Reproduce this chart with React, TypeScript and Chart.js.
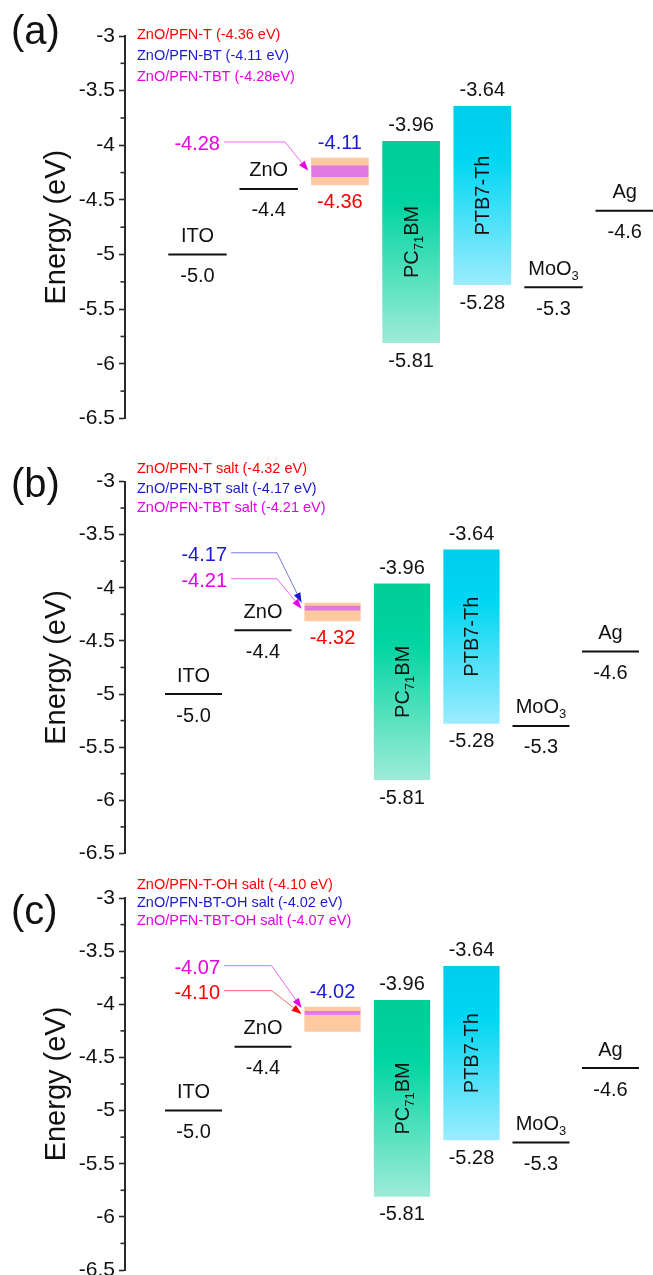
import React, { useEffect, useRef } from "react";
import { Chart, registerables } from "chart.js";

Chart.register(...registerables);

const FONT = "Arial, 'Liberation Sans', Helvetica, sans-serif";
const RED = "#FF0000";
const BLUE = "#1A1AD2";
const MAGENTA = "#E600E6";
const INK = "#111111";
const AXIS_COLOR = "#2a2a2a";
const ORANGE = "rgb(253,201,160)";
const STRIPE = "rgb(226,120,226)";

// ---- data ----
const Y_MIN = -6.5;
const Y_MAX = -3;
const Y_STEP = 0.5;

// x positions: ITO=0, ZnO=1, PFN=2, PC71BM=3, PTB7-Th=4, MoO3=5, Ag=6
const LEVEL_NAMES = ["ITO", "ZnO", "MoO_{3}", "Ag"];
const LEVEL_POS = [0, 1, 5, 6];
const LEVEL_VALUES = [-5.0, -4.4, -5.3, -4.6];
const LEVEL_TEXT = ["-5.0", "-4.4", "-5.3", "-4.6"];

const BAND_NAMES = ["PC_{71}BM", "PTB7-Th"];
const BAND_POS = [3, 4];
const BAND_LUMO = [-3.96, -3.64];
const BAND_HOMO = [-5.81, -5.28];
const BAND_LUMO_TEXT = ["-3.96", "-3.64"];
const BAND_HOMO_TEXT = ["-5.81", "-5.28"];

const PFN_POS = 2;

const PANEL_TAGS = ["(a)", "(b)", "(c)"];
const LEGEND_TEXTS = [
  ["ZnO/PFN-T (-4.36 eV)", "ZnO/PFN-BT (-4.11 eV)", "ZnO/PFN-TBT (-4.28eV)"],
  ["ZnO/PFN-T salt (-4.32 eV)", "ZnO/PFN-BT salt (-4.17 eV)", "ZnO/PFN-TBT salt (-4.21 eV)"],
  ["ZnO/PFN-T-OH salt (-4.10 eV)", "ZnO/PFN-BT-OH salt (-4.02 eV)", "ZnO/PFN-TBT-OH salt (-4.07 eV)"],
];
const LEGEND_COLORS = [RED, BLUE, MAGENTA];

const BOX_TOP = [-4.115, -4.14, -4.023];
const BOX_BOTTOM = [-4.365, -4.316, -4.258];
const STRIPE_TOP = [-4.185, -4.169, -4.063];
const STRIPE_BOTTOM = [-4.29, -4.213, -4.098];

const ABOVE_TEXT = ["-4.11", "", "-4.02"];
const BELOW_TEXT = ["-4.36", "-4.32", ""];

const CALLOUT_TEXT = [["-4.28"], ["-4.17", "-4.21"], ["-4.07", "-4.10"]];
const CALLOUT_COLOR = [[MAGENTA], [BLUE, MAGENTA], [MAGENTA, RED]];
const CALLOUT_Y = [[-3.97], [-3.671, -3.915], [-3.637, -3.872]];
const CALLOUT_TIP_Y = [[-4.234], [-4.141, -4.197], [-4.035, -4.091]];
const CALLOUT_START_X = [0.372, 0.54, 0.439];
const CALLOUT_CORNER_X = [1.229, 1.201, 1.125];
const CALLOUT_TIP_X = 1.555;

// ---- layout (styles only) ----
const AXIS_X = 125;
const PANELS = [
  { top: 0, height: 435, canvasH: 435, padTop: 36, padBottom: 16, xMin: -1.018, xMax: 6.397, tagBase: 8, legendFirst: 3, legendGap: 21 },
  { top: 435, height: 435, canvasH: 435, padTop: 46.5, padBottom: 15.75, xMin: -0.986, xMax: 6.612, tagBase: 15.5, legendFirst: -8.5, legendGap: 19.5 },
  { top: 870, height: 405, canvasH: 440, padTop: 28, padBottom: 40, xMin: -0.986, xMax: 6.612, tagBase: 26, legendFirst: -9, legendGap: 18 },
];

function parseRich(s: string) {
  const parts: { t: string; sub: boolean }[] = [];
  const re = /_\{([^}]*)\}/g;
  let last = 0;
  let m: RegExpExecArray | null;
  while ((m = re.exec(s))) {
    if (m.index > last) parts.push({ t: s.slice(last, m.index), sub: false });
    parts.push({ t: m[1], sub: true });
    last = m.index + m[0].length;
  }
  if (last < s.length) parts.push({ t: s.slice(last), sub: false });
  return parts;
}

function drawRich(ctx: CanvasRenderingContext2D, s: string, cx: number, base: number, size: number, color: string) {
  const parts = parseRich(s);
  const subSize = Math.round(size * 0.65);
  let total = 0;
  const widths = parts.map((p) => {
    ctx.font = `${p.sub ? subSize : size}px ${FONT}`;
    const w = ctx.measureText(p.t).width;
    total += w;
    return w;
  });
  let x = cx - total / 2;
  ctx.fillStyle = color;
  ctx.textAlign = "left";
  ctx.textBaseline = "alphabetic";
  parts.forEach((p, i) => {
    ctx.font = `${p.sub ? subSize : size}px ${FONT}`;
    ctx.fillText(p.t, x, p.sub ? base + size * 0.25 : base);
    x += widths[i];
  });
}

function txt(ctx: CanvasRenderingContext2D, s: string, x: number, y: number, size: number, color: string, align: CanvasTextAlign = "center") {
  ctx.font = `${size}px ${FONT}`;
  ctx.fillStyle = color;
  ctx.textAlign = align;
  ctx.textBaseline = "alphabetic";
  ctx.fillText(s, x, y);
}

function makeAnnotations(idx: number) {
  const p = PANELS[idx];
  return {
    id: "annot" + idx,
    afterDraw(chart: any) {
      const ctx: CanvasRenderingContext2D = chart.ctx;
      const ca = chart.chartArea;
      const xs = chart.scales.x;
      const ys = chart.scales.y;
      const X = (v: number) => xs.getPixelForValue(v);
      const Y = (v: number) => ys.getPixelForValue(v);
      ctx.save();

      // minor ticks
      ctx.strokeStyle = AXIS_COLOR;
      ctx.lineWidth = 1.6;
      for (let v = Y_MIN + Y_STEP / 2; v < Y_MAX; v += Y_STEP) {
        const y = Y(v);
        ctx.beginPath();
        ctx.moveTo(ca.left - 4.5, y);
        ctx.lineTo(ca.left, y);
        ctx.stroke();
      }

      // panel tag
      txt(ctx, PANEL_TAGS[idx], 11, ca.top + p.tagBase, 40, INK, "left");

      // legend lines
      LEGEND_TEXTS[idx].forEach((s, i) => {
        txt(ctx, s, ca.left + 12, ca.top + p.legendFirst + i * p.legendGap, 14.5, LEGEND_COLORS[i], "left");
      });

      // level labels
      LEVEL_POS.forEach((pos, i) => {
        const cx = X(pos);
        const ly = Y(LEVEL_VALUES[i]);
        drawRich(ctx, LEVEL_NAMES[i], cx, ly - 12.5, 20, INK);
        txt(ctx, LEVEL_TEXT[i], cx, ly + 27.5, 20, INK);
      });

      // band labels
      BAND_POS.forEach((pos, i) => {
        const cx = X(pos);
        const top = Y(BAND_LUMO[i]);
        const bot = Y(BAND_HOMO[i]);
        txt(ctx, BAND_LUMO_TEXT[i], cx, top - 10, 20, INK);
        txt(ctx, BAND_HOMO_TEXT[i], cx, bot + 23.5, 20, INK);
        ctx.save();
        ctx.translate(cx + 7, (top + bot) / 2);
        ctx.rotate(-Math.PI / 2);
        drawRich(ctx, BAND_NAMES[i], 0, 0, 20, INK);
        ctx.restore();
      });

      // PFN box labels
      const bx = X(PFN_POS);
      if (ABOVE_TEXT[idx]) txt(ctx, ABOVE_TEXT[idx], bx, Y(BOX_TOP[idx]) - 8.5, 20, BLUE);
      if (BELOW_TEXT[idx]) txt(ctx, BELOW_TEXT[idx], bx, Y(BOX_BOTTOM[idx]) + 22.5, 20, RED);

      // callouts with arrows
      CALLOUT_TEXT[idx].forEach((s, i) => {
        const color = CALLOUT_COLOR[idx][i];
        const ly = Y(CALLOUT_Y[idx][i]);
        const sx = X(CALLOUT_START_X[idx]);
        const cx = X(CALLOUT_CORNER_X[idx]);
        const tx = X(CALLOUT_TIP_X);
        const ty = Y(CALLOUT_TIP_Y[idx][i]);
        txt(ctx, s, sx - 4, ly + 8, 20, color, "right");
        const ang = Math.atan2(ty - ly, tx - cx);
        const hl = 10;
        const hw = 3.6;
        const bxp = tx - hl * Math.cos(ang);
        const byp = ty - hl * Math.sin(ang);
        ctx.save();
        ctx.globalAlpha = 0.6;
        ctx.strokeStyle = color;
        ctx.lineWidth = 1;
        ctx.beginPath();
        ctx.moveTo(sx, ly);
        ctx.lineTo(cx, ly);
        ctx.lineTo(bxp, byp);
        ctx.stroke();
        ctx.restore();
        ctx.fillStyle = color;
        ctx.beginPath();
        ctx.moveTo(tx, ty);
        ctx.lineTo(bxp - hw * Math.sin(ang), byp + hw * Math.cos(ang));
        ctx.lineTo(bxp + hw * Math.sin(ang), byp - hw * Math.cos(ang));
        ctx.closePath();
        ctx.fill();
      });

      ctx.restore();
    },
  };
}

function bandGradient(chart: any, i: number) {
  const ys = chart.scales && chart.scales.y;
  if (!chart.chartArea || !ys) return i === 0 ? "#00CC96" : "#00CCEE";
  const y0 = ys.getPixelForValue(BAND_LUMO[i]);
  const y1 = ys.getPixelForValue(BAND_HOMO[i]);
  const g = chart.ctx.createLinearGradient(0, y0, 0, y1);
  if (i === 0) {
    g.addColorStop(0, "rgb(0,204,150)");
    g.addColorStop(0.3, "rgb(0,212,160)");
    g.addColorStop(1, "rgb(158,236,216)");
  } else {
    g.addColorStop(0, "rgb(0,204,236)");
    g.addColorStop(0.3, "rgb(0,214,242)");
    g.addColorStop(1, "rgb(156,236,255)");
  }
  return g;
}

function Panel({ idx }: { idx: number }) {
  const ref = useRef<HTMLCanvasElement>(null);
  const p = PANELS[idx];
  useEffect(() => {
    if (!ref.current) return;
    const halfLine = 0.41;
    const datasets: any[] = [
      {
        type: "bar",
        label: "stripe",
        data: [{ x: PFN_POS, y: [STRIPE_BOTTOM[idx], STRIPE_TOP[idx]] }],
        backgroundColor: STRIPE,
        grouped: false,
        barPercentage: 0.8,
        categoryPercentage: 1,
        borderWidth: 0,
        order: 0,
      },
      {
        type: "bar",
        label: "layers",
        data: [
          { x: PFN_POS, y: [BOX_BOTTOM[idx], BOX_TOP[idx]] },
          ...BAND_POS.map((x, i) => ({ x, y: [BAND_HOMO[i], BAND_LUMO[i]] })),
        ],
        backgroundColor: (c: any) => (c.dataIndex === 0 ? ORANGE : bandGradient(c.chart, c.dataIndex - 1)),
        grouped: false,
        barPercentage: 0.81,
        categoryPercentage: 1,
        borderWidth: 0,
        order: 1,
      },
      ...LEVEL_POS.map((x, i) => ({
        type: "line",
        label: LEVEL_NAMES[i],
        data: [
          { x: x - halfLine, y: LEVEL_VALUES[i] },
          { x: x + halfLine, y: LEVEL_VALUES[i] },
        ],
        borderColor: INK,
        borderWidth: 2,
        pointRadius: 0,
        fill: false,
        order: 2,
      })),
    ];
    const chart = new Chart(ref.current, {
      type: "bar",
      data: { datasets },
      options: {
        animation: false,
        responsive: false,
        maintainAspectRatio: false,
        devicePixelRatio: 1,
        events: [],
        layout: { padding: { top: p.padTop, bottom: p.padBottom, left: 0, right: 0 } },
        plugins: { legend: { display: false }, tooltip: { enabled: false }, title: { display: false } },
        scales: {
          x: {
            type: "linear",
            min: p.xMin,
            max: p.xMax,
            display: false,
            offset: false,
            ticks: { stepSize: 1, includeBounds: false },
            grid: { display: false },
          },
          y: {
            type: "linear",
            position: "left",
            min: Y_MIN,
            max: Y_MAX,
            stacked: false,
            afterFit: (s: any) => {
              s.width = AXIS_X;
            },
            ticks: {
              stepSize: Y_STEP,
              padding: 4,
              color: INK,
              font: { family: FONT, size: 21 },
              callback: (v: any) => String(v),
            },
            grid: {
              display: true,
              drawOnChartArea: false,
              drawTicks: true,
              tickLength: 6,
              tickWidth: 1.6,
              tickColor: AXIS_COLOR,
              color: AXIS_COLOR,
            },
            border: { display: true, color: AXIS_COLOR, width: 2 },
            title: {
              display: true,
              text: "Energy (eV)",
              color: INK,
              font: { family: FONT, size: 29 },
              padding: { top: 40, bottom: 0 },
            },
          },
        },
      } as any,
      plugins: [makeAnnotations(idx)],
    });
    return () => chart.destroy();
  }, [idx]);
  return (
    <canvas
      ref={ref}
      width={653}
      height={p.canvasH}
      style={{ display: "block", width: 653, height: p.canvasH }}
    />
  );
}

export default function App() {
  return (
    <div style={{ position: "absolute", left: 0, top: 0, width: 653, height: 1275, background: "#fff", overflow: "hidden" }}>
      {PANELS.map((p, i) => (
        <div key={i} style={{ position: "absolute", left: 0, top: p.top, width: 653, height: p.height, overflow: "hidden" }}>
          <Panel idx={i} />
        </div>
      ))}
    </div>
  );
}
